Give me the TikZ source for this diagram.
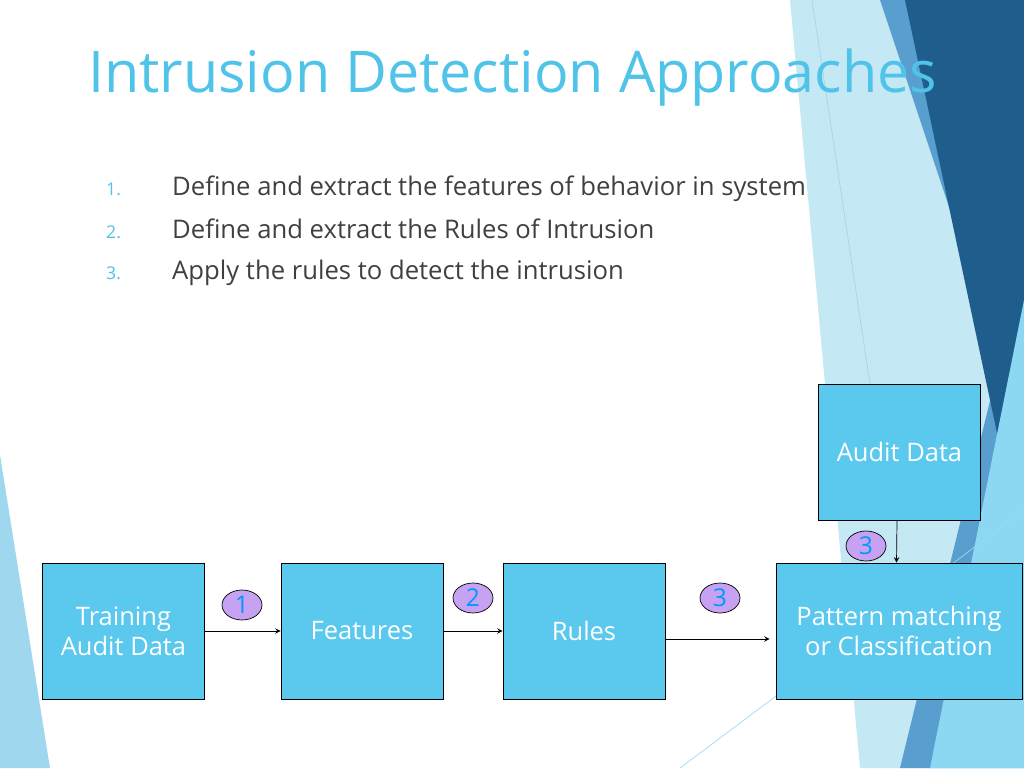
\documentclass[tikz,border=0pt]{standalone}
\usepackage{fontspec}
\setmainfont{Open Sans}
\usetikzlibrary{positioning,shapes.geometric}
\definecolor{boxblue}{HTML}{5BC8EE}
\definecolor{titleblue}{HTML}{4FC3E8}
\definecolor{navy}{HTML}{1F5E8C}
\definecolor{midblue}{HTML}{2E86C1}
\definecolor{paleblue}{HTML}{9FD8EE}
\definecolor{bubble}{HTML}{C8A2F2}
\definecolor{txt}{HTML}{404040}
\tikzset{
  stage/.style={draw=black,fill=boxblue,minimum width=3.24cm,minimum height=2.72cm,text=white,font=\fontsize{14.5}{17}\selectfont,align=center},
  num/.style={draw=black,fill=bubble,ellipse,minimum width=0.8cm,minimum height=0.6cm,inner sep=0pt,text=blue!40!cyan,font=\fontsize{14}{16}\selectfont},
  item/.style={anchor=base west,text=txt,font=\fontsize{14.6}{17}\selectfont},
  itemnum/.style={anchor=base west,text=titleblue,font=\fontsize{10}{12}\selectfont}
}
\begin{document}
\begin{tikzpicture}[x=0.02cm,y=-0.02cm]
\useasboundingbox (0,0) rectangle (1024,768);
% background
\fill[paleblue!60] (790,0) -- (905,0) -- (1024,330) -- (1024,768) -- (860,768) -- cycle;
\fill[midblue!80] (880,0) -- (1024,0) -- (1024,768) -- (900,768) -- (1000,360) -- cycle;
\fill[navy] (905,0) -- (1024,0) -- (1024,560) -- cycle;
\fill[boxblue!70] (1024,300) -- (1024,768) -- (930,768) -- cycle;
\fill[paleblue] (0,455) -- (50,768) -- (0,768) -- cycle;
\draw[paleblue] (812,0) -- (870,384);
\draw[paleblue] (680,768) -- (1024,510);
% title and list
\node[anchor=west,text=titleblue,font=\fontsize{32.7}{38}\selectfont] (title) at (82,78) {Intrusion Detection Approaches};
\foreach \n/\y/\t in {1/195/Define and extract the features of behavior in system,
                      2/238/Define and extract the Rules of Intrusion,
                      3/279/Apply the rules to detect the intrusion}{
  \node[itemnum] (n\n) at (100,\y) {\n.};
  \node[item] (t\n) at (166,\y) {\t};
}
% boxes
\node[stage] (train) at (123.5,631) {Training\\Audit Data};
\node[stage] (feat) at (362,631) {Features};
\node[stage] (rules) at (584,631) {Rules};
\node[stage,minimum width=4.92cm] (match) at (899,631) {Pattern matching\\ or Classification};
\node[stage] (audit) at (899.5,452) {Audit Data};
% arrows
\draw[-stealth] (train) -- (feat);
\draw[-stealth] (feat) -- (rules);
\draw[-stealth] ([yshift=-0.16cm]rules.east) -- ([xshift=-0.12cm,yshift=-0.16cm]match.west);
\draw[-stealth] ([xshift=-0.05cm]audit.south) -- ([xshift=-0.05cm]match.north);
% numbers
\node[num] (c1) at (242,605) {1};
\node[num] (c2) at (473,598) {2};
\node[num] (c3) at (720,598) {3};
\node[num] (c4) at (866,546) {3};
\end{tikzpicture}
\end{document}
